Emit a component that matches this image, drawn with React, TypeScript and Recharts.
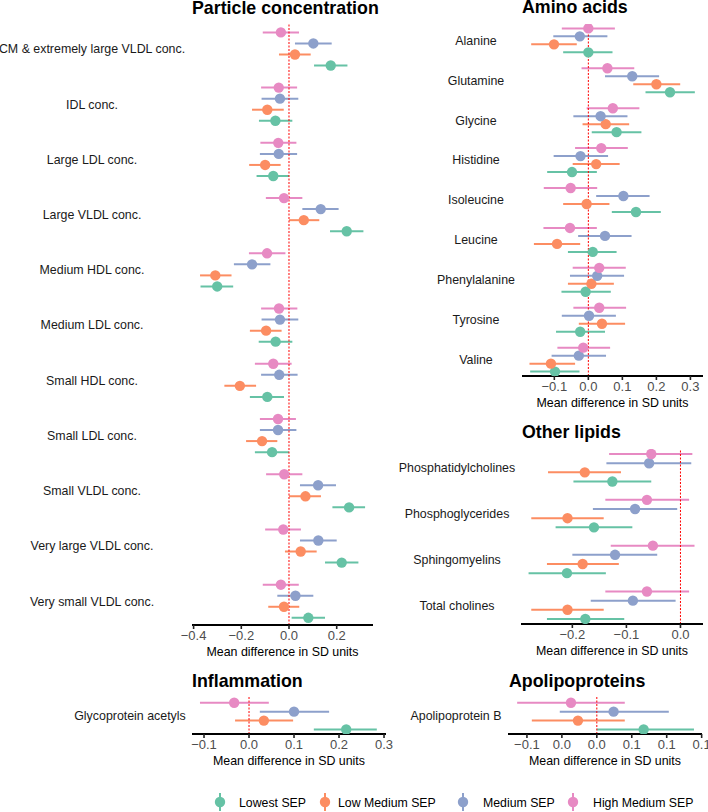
import { ScatterChart, Scatter, XAxis, YAxis, ErrorBar, ReferenceLine } from 'recharts';

type Est = [number, number, number]; // estimate, lower CI, upper CI

const SEP_GROUPS = ['Lowest SEP', 'Low Medium SEP', 'Medium SEP', 'High Medium SEP'];
const SEP_COLORS = ['#66c2a5', '#fc8d62', '#8da0cb', '#e78ac3'];
// vertical dodge inside each category (category units), lowest SEP at the bottom
const DODGE = [0.3, 0.1, -0.1, -0.3];

const particleCats = [
  'CM & extremely large VLDL conc.',
  'IDL conc.',
  'Large LDL conc.',
  'Large VLDL conc.',
  'Medium HDL conc.',
  'Medium LDL conc.',
  'Small HDL conc.',
  'Small LDL conc.',
  'Small VLDL conc.',
  'Very large VLDL conc.',
  'Very small VLDL conc.',
];
const particleLowest: Est[] = [
  [0.175, 0.105, 0.245], [-0.057, -0.126, 0.014], [-0.066, -0.136, 0.0], [0.242, 0.172, 0.312],
  [-0.301, -0.371, -0.234], [-0.056, -0.127, 0.014], [-0.091, -0.164, -0.021], [-0.071, -0.143, 0.0],
  [0.252, 0.182, 0.319], [0.221, 0.151, 0.291], [0.081, 0.011, 0.151],
];
const particleLowMedium: Est[] = [
  [0.025, -0.042, 0.091], [-0.091, -0.155, -0.022], [-0.1, -0.167, -0.035], [0.062, 0.0, 0.127],
  [-0.309, -0.373, -0.241], [-0.096, -0.164, -0.031], [-0.206, -0.271, -0.138], [-0.113, -0.18, -0.049],
  [0.069, 0.0, 0.134], [0.049, -0.017, 0.116], [-0.021, -0.087, 0.043],
];
const particleMedium: Est[] = [
  [0.102, 0.025, 0.179], [-0.038, -0.115, 0.039], [-0.043, -0.122, 0.034], [0.133, 0.056, 0.208],
  [-0.155, -0.231, -0.078], [-0.038, -0.115, 0.039], [-0.041, -0.117, 0.036], [-0.046, -0.122, 0.031],
  [0.122, 0.046, 0.197], [0.123, 0.046, 0.2], [0.027, -0.049, 0.102],
];
const particleHighMedium: Est[] = [
  [-0.034, -0.11, 0.042], [-0.043, -0.117, 0.034], [-0.045, -0.12, 0.031], [-0.021, -0.097, 0.056],
  [-0.092, -0.168, -0.015], [-0.042, -0.117, 0.035], [-0.066, -0.143, 0.011], [-0.046, -0.122, 0.029],
  [-0.02, -0.096, 0.056], [-0.024, -0.1, 0.05], [-0.034, -0.11, 0.041],
];

const aminoCats = ['Alanine', 'Glutamine', 'Glycine', 'Histidine', 'Isoleucine', 'Leucine', 'Phenylalanine', 'Tyrosine', 'Valine'];
const aminoLowest: Est[] = [
  [0.0, -0.074, 0.071], [0.24, 0.168, 0.313], [0.083, 0.01, 0.156], [-0.048, -0.121, 0.025], [0.14, 0.069, 0.213],
  [0.013, -0.06, 0.083], [-0.008, -0.079, 0.066], [-0.024, -0.095, 0.049], [-0.098, -0.171, -0.026],
];
const aminoLowMedium: Est[] = [
  [-0.101, -0.168, -0.034], [0.2, 0.132, 0.27], [0.051, -0.017, 0.12], [0.023, -0.046, 0.092], [-0.005, -0.074, 0.062],
  [-0.092, -0.16, -0.024], [0.009, -0.06, 0.075], [0.04, -0.028, 0.108], [-0.11, -0.173, -0.039],
];
const aminoMedium: Est[] = [
  [-0.025, -0.103, 0.056], [0.129, 0.049, 0.208], [0.036, -0.044, 0.115], [-0.023, -0.102, 0.058], [0.103, 0.023, 0.18],
  [0.049, -0.03, 0.127], [0.026, -0.054, 0.105], [0.002, -0.078, 0.081], [-0.028, -0.108, 0.052],
];
const aminoHighMedium: Est[] = [
  [0.0, -0.078, 0.078], [0.056, -0.02, 0.135], [0.072, -0.005, 0.15], [0.038, -0.039, 0.116], [-0.052, -0.131, 0.026],
  [-0.054, -0.132, 0.025], [0.032, -0.046, 0.11], [0.032, -0.044, 0.111], [-0.015, -0.091, 0.064],
];

const lipidCats = ['Phosphatidylcholines', 'Phosphoglycerides', 'Sphingomyelins', 'Total cholines'];
const lipidLowest: Est[] = [[-0.126, -0.198, -0.054], [-0.16, -0.231, -0.089], [-0.21, -0.281, -0.138], [-0.176, -0.247, -0.104]];
const lipidLowMedium: Est[] = [[-0.177, -0.245, -0.11], [-0.209, -0.276, -0.142], [-0.181, -0.247, -0.114], [-0.209, -0.276, -0.142]];
const lipidMedium: Est[] = [[-0.058, -0.137, 0.02], [-0.084, -0.162, -0.006], [-0.121, -0.2, -0.043], [-0.088, -0.166, -0.009]];
const lipidHighMedium: Est[] = [[-0.054, -0.132, 0.022], [-0.062, -0.139, 0.016], [-0.051, -0.129, 0.026], [-0.062, -0.139, 0.016]];

const inflamCats = ['Glycoprotein acetyls'];
const inflamLowest: Est[] = [[0.216, 0.144, 0.284]];
const inflamLowMedium: Est[] = [[0.033, -0.031, 0.098]];
const inflamMedium: Est[] = [[0.1, 0.024, 0.178]];
const inflamHighMedium: Est[] = [[-0.033, -0.109, 0.044]];

const apoCats = ['Apolipoprotein B'];
const apoLowest: Est[] = [[0.067, 0.0, 0.139]];
const apoLowMedium: Est[] = [[-0.027, -0.093, 0.04]];
const apoMedium: Est[] = [[0.024, -0.053, 0.103]];
const apoHighMedium: Est[] = [[-0.037, -0.114, 0.04]];

const particleTicks = [-0.4, -0.2, 0, 0.2];
const aminoTicks = [-0.1, 0, 0.1, 0.2, 0.3];
const lipidTicks = [-0.2, -0.1, 0];
const inflamTicks = [-0.1, 0, 0.1, 0.2, 0.3];
const apoTicks = [-0.1, -0.05, 0, 0.05, 0.1, 0.15];
const apoTickLabels = ['\u22120.1', '0.0', '0.0', '0.1', '0.1', '0.1'];

const FONT = '"Liberation Sans", Arial, Helvetica, sans-serif';
const AXIS_H = 36;
const TOP_PAD = 4;

const fmt = (v: number) => v.toFixed(1).replace('-', '\u2212');

function toPoints(rows: Est[], offset: number) {
  return rows.map(([m, lo, hi], i) => ({ x: m, y: i + offset, err: [m - lo, hi - m] }));
}

interface PanelProps {
  cats: string[];
  groups: Est[][];
  svgLeft: number;
  plotLeft: number;
  plotRight: number;
  plotTop: number;
  axisY: number;
  yPad: [number, number];
  xDomain: [number, number];
  xTicks: number[];
  xLabels?: string[];
  labelX: number;
  padRight?: number;
}

function Panel(p: PanelProps) {
  const padRight = p.padRight ?? 4;
  const width = p.plotRight - p.svgLeft + padRight;
  const height = p.axisY - p.plotTop + TOP_PAD + AXIS_H;
  const labelX = p.labelX - p.svgLeft;
  const tickText = (v: number) => {
    if (p.xLabels) {
      const i = p.xTicks.findIndex((t) => Math.abs(t - v) < 1e-9);
      return i >= 0 ? p.xLabels[i] : fmt(v);
    }
    return fmt(v);
  };

  return (
    <div style={{ position: 'absolute', left: p.svgLeft, top: p.plotTop - TOP_PAD }}>
      <ScatterChart width={width} height={height} margin={{ top: TOP_PAD, right: padRight, bottom: 0, left: 0 }}>
        <XAxis
          type="number"
          dataKey="x"
          domain={p.xDomain}
          allowDataOverflow
          ticks={p.xTicks}
          interval={0}
          tickFormatter={tickText}
          height={AXIS_H}
          tickSize={4}
          tickMargin={2}
          axisLine={{ stroke: '#000', strokeWidth: 2 }}
          tickLine={{ stroke: '#222', strokeWidth: 1.6 }}
          tick={{ fill: '#4d4d4d', fontSize: 13 }}
          label={{ value: 'Mean difference in SD units', position: 'insideBottom', offset: 5, fill: '#000', fontSize: 12.4 }}
        />
        <YAxis
          type="number"
          dataKey="y"
          domain={[-p.yPad[0], p.cats.length - 1 + p.yPad[1]]}
          reversed
          allowDataOverflow
          ticks={p.cats.map((_, i) => i)}
          interval={0}
          width={p.plotLeft - p.svgLeft}
          axisLine={false}
          tickLine={false}
          tick={(t: any) => (
            <text x={labelX} y={t.y} dy="0.35em" textAnchor="middle" fontSize={12.4} fill="#1a1a1a">
              {p.cats[t.payload.value]}
            </text>
          )}
        />
        {p.groups.map((rows, g) => (
          <Scatter
            key={SEP_GROUPS[g]}
            name={SEP_GROUPS[g]}
            data={toPoints(rows, DODGE[g])}
            fill={SEP_COLORS[g]}
            isAnimationActive={false}
            shape={(s: any) => <circle cx={s.cx} cy={s.cy} r={5.2} fill={SEP_COLORS[g]} />}
          >
            <ErrorBar dataKey="err" direction="x" width={0} stroke={SEP_COLORS[g]} strokeWidth={2} isAnimationActive={false} />
          </Scatter>
        ))}
        <ReferenceLine x={0} stroke="#ff0000" strokeWidth={1} strokeDasharray="2 1.5" />
      </ScatterChart>
    </div>
  );
}

const titles = [
  { text: 'Particle concentration', x: 192, y: 14 },
  { text: 'Amino acids', x: 522, y: 13 },
  { text: 'Other lipids', x: 522, y: 438 },
  { text: 'Inflammation', x: 192, y: 687 },
  { text: 'Apolipoproteins', x: 509, y: 687 },
];
const legendIconX = [220, 325, 463, 573];
const legendTextX = [239, 338, 483, 593];

export default function App() {
  return (
    <div style={{ position: 'absolute', left: 0, top: 0, width: 708, height: 812, overflow: 'hidden', background: '#fff', fontFamily: FONT }}>
      <Panel
        cats={particleCats}
        groups={[particleLowest, particleLowMedium, particleMedium, particleHighMedium]}
        svgLeft={0}
        plotLeft={192}
        plotRight={373}
        plotTop={23}
        axisY={625}
        yPad={[0.47, 0.43]}
        xDomain={[-0.4067, 0.3522]}
        xTicks={particleTicks}
        labelX={92}
      />
      <Panel
        cats={aminoCats}
        groups={[aminoLowest, aminoLowMedium, aminoMedium, aminoHighMedium]}
        svgLeft={360}
        plotLeft={522}
        plotRight={703}
        plotTop={24}
        axisY={376}
        yPad={[0.41, 0.41]}
        xDomain={[-0.195, 0.337]}
        xTicks={aminoTicks}
        labelX={476}
      />
      <Panel
        cats={lipidCats}
        groups={[lipidLowest, lipidLowMedium, lipidMedium, lipidHighMedium]}
        svgLeft={360}
        plotLeft={521}
        plotRight={703}
        plotTop={449}
        axisY={624}
        yPad={[0.41, 0.41]}
        xDomain={[-0.295, 0.0417]}
        xTicks={lipidTicks}
        labelX={457}
      />
      <Panel
        cats={inflamCats}
        groups={[inflamLowest, inflamLowMedium, inflamMedium, inflamHighMedium]}
        svgLeft={0}
        plotLeft={192}
        plotRight={386}
        plotTop={696}
        axisY={734}
        yPad={[0.45, 0.4]}
        xDomain={[-0.1267, 0.3044]}
        xTicks={inflamTicks}
        labelX={130}
        padRight={16}
      />
      <Panel
        cats={apoCats}
        groups={[apoLowest, apoLowMedium, apoMedium, apoHighMedium]}
        svgLeft={360}
        plotLeft={508}
        plotRight={702}
        plotTop={696}
        axisY={734}
        yPad={[0.45, 0.4]}
        xDomain={[-0.1271, 0.1505]}
        xTicks={apoTicks}
        xLabels={apoTickLabels}
        labelX={456}
        padRight={12}
      />
      <svg width={708} height={812} style={{ position: 'absolute', left: 0, top: 0, pointerEvents: 'none' }}>
        {titles.map((t) => (
          <text key={t.text} x={t.x} y={t.y} fontSize={17.8} fontWeight="bold" fill="#000">
            {t.text}
          </text>
        ))}
        {SEP_GROUPS.map((name, g) => (
          <g key={name}>
            <line x1={legendIconX[g]} x2={legendIconX[g]} y1={793} y2={811} stroke={SEP_COLORS[g]} strokeWidth={2} />
            <circle cx={legendIconX[g]} cy={802} r={5.2} fill={SEP_COLORS[g]} />
            <text x={legendTextX[g]} y={806.5} fontSize={12.3} fill="#000">
              {name}
            </text>
          </g>
        ))}
      </svg>
    </div>
  );
}
